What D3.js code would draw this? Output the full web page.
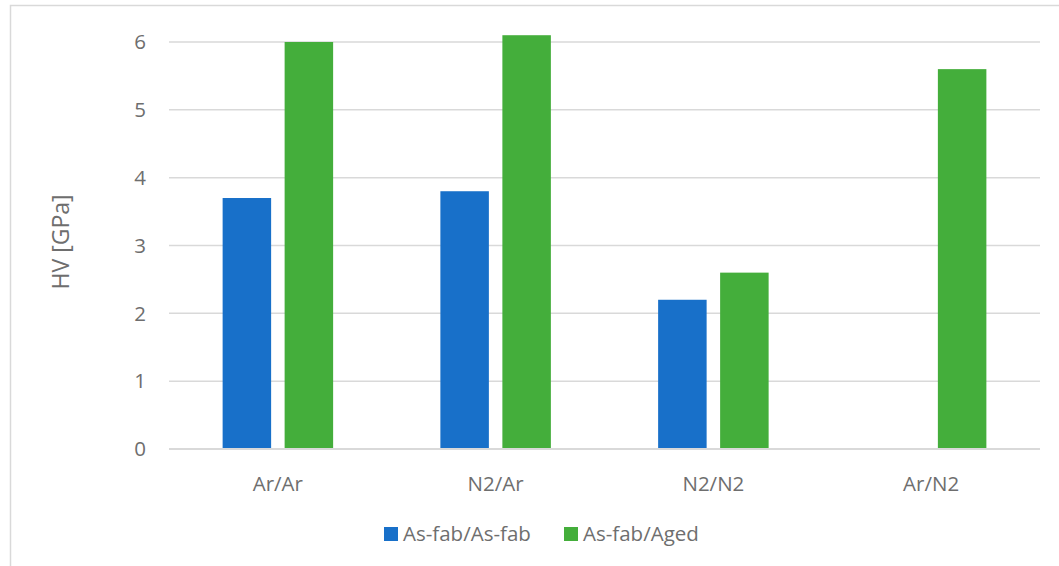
<!DOCTYPE html>
<html>
<head>
<meta charset="utf-8">
<script src="https://cdn.jsdelivr.net/npm/d3@7"></script>
<style>
  html, body { margin: 0; padding: 0; background: #fff; }
  svg { display: block; }
  text { font-family: "Open Sans", "Noto Sans", sans-serif; fill: #6e6e6e; }
</style>
</head>
<body>
<svg id="chart" width="1059" height="566"></svg>
<script>
// Hardness per processing atmosphere
const categories = ["Ar/Ar", "N2/Ar", "N2/N2", "Ar/N2"];
const seriesNames = ["As-fab/As-fab", "As-fab/Aged"];
const asFabValues = [3.7, 3.8, 2.2, null];
const agedValues = [6.0, 6.1, 2.6, 5.6];
const yTicks = [0, 1, 2, 3, 4, 5, 6];
const colors = ["#1870C9", "#44AE3B"];

const svg = d3.select("#chart");
const W = 1059, H = 566;
const labelSize = 20.5, titleSize = 23;

// outer chart frame
svg.append("rect")
  .attr("x", 10.5).attr("y", 5.5)
  .attr("width", W + 20).attr("height", H + 20)
  .attr("fill", "#fff").attr("stroke", "#d9d9d9").attr("stroke-width", 1.5);

const plot = { left: 169, right: 1040, top: 42, bottom: 449 };

const x = d3.scaleBand().domain(categories)
  .range([plot.left, plot.right]).paddingInner(0).paddingOuter(0);

const y = d3.scaleLinear().domain([0, 6]).range([plot.bottom, plot.top]);

// group layout inside each band
const barW = 48.5, innerGap = 13.5;
const groupW = barW * 2 + innerGap;
const xs = d3.scaleOrdinal().domain(seriesNames)
  .range([0, barW + innerGap]);

// gridlines
svg.append("g")
  .selectAll("line")
  .data(yTicks.filter(t => t > 0))
  .join("line")
  .attr("x1", plot.left).attr("x2", plot.right)
  .attr("y1", d => y(d)).attr("y2", d => y(d))
  .attr("stroke", "#d9d9d9").attr("stroke-width", 1.5);

// y tick labels
svg.append("g")
  .selectAll("text")
  .data(yTicks)
  .join("text")
  .attr("x", 146)
  .attr("y", d => y(d))
  .attr("dy", "0.35em")
  .attr("text-anchor", "end")
  .attr("font-size", labelSize)
  .text(d => d);

// y axis title
svg.append("text")
  .attr("transform", `translate(61, 242) rotate(-90)`)
  .attr("text-anchor", "middle")
  .attr("dy", "0.35em")
  .attr("font-size", titleSize)
  .text("HV [GPa]");

// bars
const series = [asFabValues, agedValues];
series.forEach((vals, si) => {
  svg.append("g")
    .selectAll("rect")
    .data(categories.map((c, i) => ({ c, v: vals[i] })).filter(d => d.v != null))
    .join("rect")
    .attr("x", d => x(d.c) + (x.bandwidth() - groupW) / 2 + xs(seriesNames[si]))
    .attr("width", barW)
    .attr("y", d => y(d.v))
    .attr("height", d => y(0) - y(d.v))
    .attr("fill", colors[si]);
});

// baseline
svg.append("line")
  .attr("x1", plot.left).attr("x2", plot.right)
  .attr("y1", y(0)).attr("y2", y(0))
  .attr("stroke", "#d9d9d9").attr("stroke-width", 2);

// category labels
svg.append("g")
  .selectAll("text")
  .data(categories)
  .join("text")
  .attr("x", d => x(d) + x.bandwidth() / 2)
  .attr("y", 484)
  .attr("dy", "0.35em")
  .attr("text-anchor", "middle")
  .attr("font-size", labelSize)
  .text(d => d);

// legend
const legendItems = [
  { name: seriesNames[0], color: colors[0], x: 384 },
  { name: seriesNames[1], color: colors[1], x: 564 }
];
const lg = svg.append("g");
legendItems.forEach(it => {
  lg.append("rect")
    .attr("x", it.x).attr("y", 527)
    .attr("width", 14).attr("height", 14)
    .attr("fill", it.color);
  lg.append("text")
    .attr("x", it.x + 19).attr("y", 534)
    .attr("dy", "0.35em")
    .attr("font-size", labelSize)
    .text(it.name);
});
</script>
</body>
</html>
